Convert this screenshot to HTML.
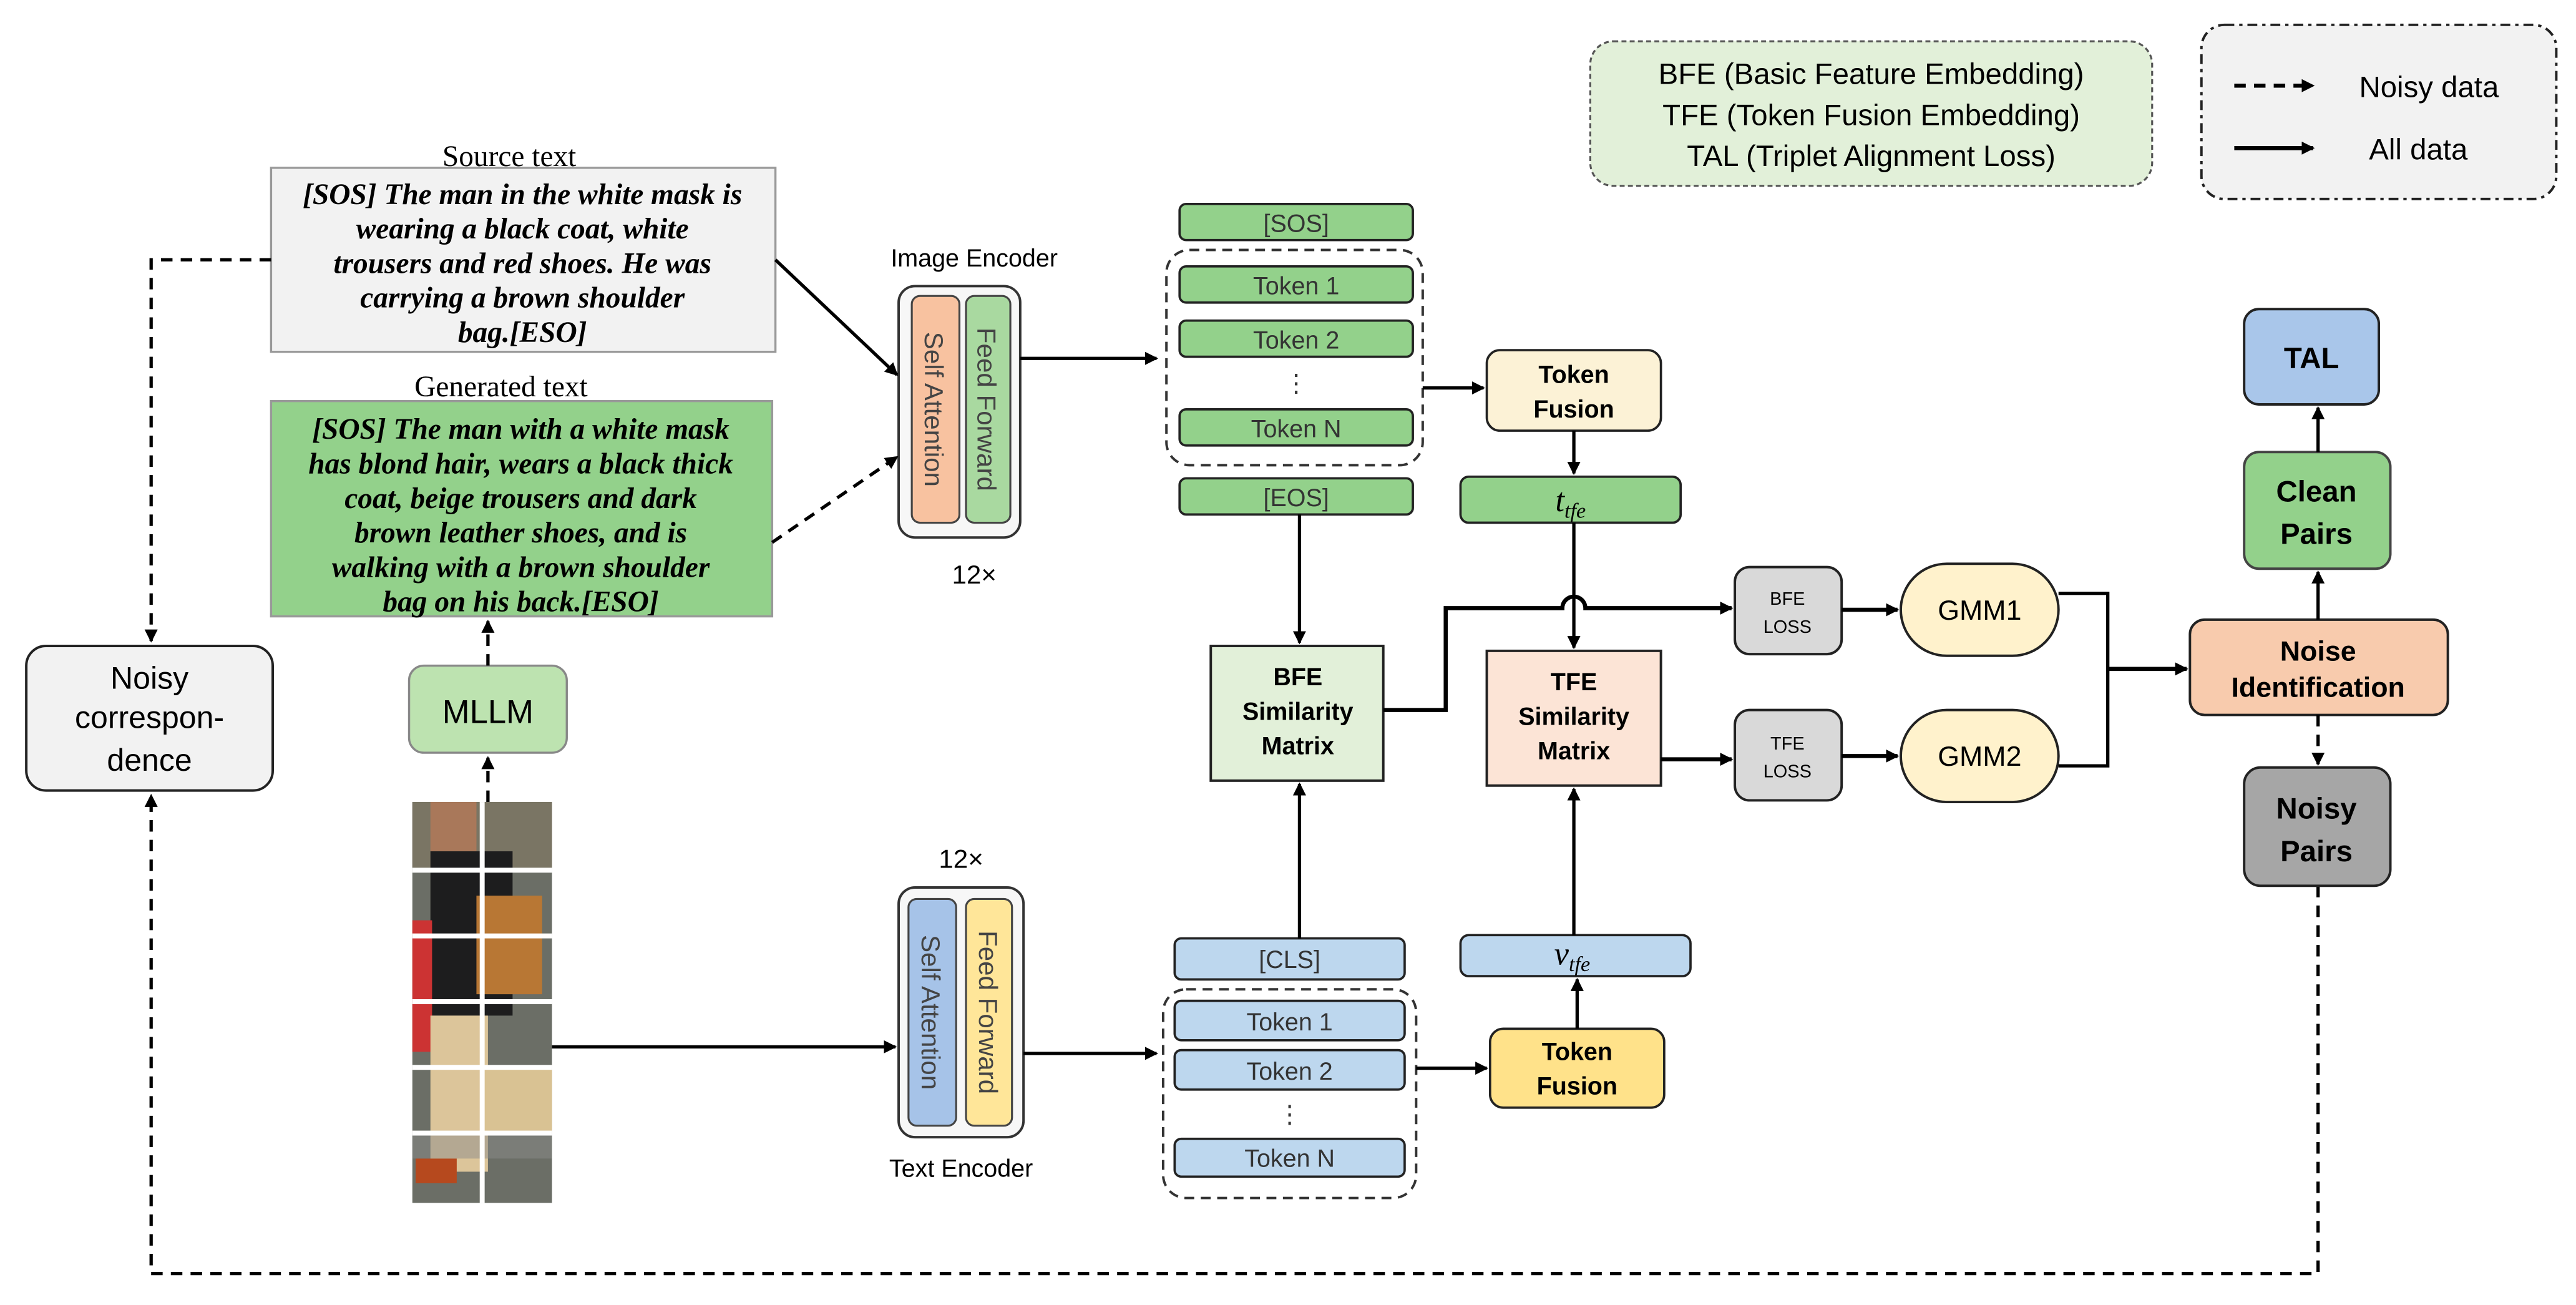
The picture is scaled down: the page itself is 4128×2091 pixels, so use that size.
<!DOCTYPE html>
<html><head><meta charset="utf-8"><style>
html,body{margin:0;padding:0;background:#fff;}
svg{display:block;}
text{font-family:"Liberation Sans",sans-serif;}
.s{font-family:"Liberation Serif",serif;}
.it{font-family:"Liberation Serif",serif;font-style:italic;font-weight:bold;font-size:18px;}
.tk{font-size:15px;fill:#333;}
.b{font-weight:bold;}
</style></head><body>
<svg width="4128" height="2091" viewBox="0 0 1568 794" xmlns="http://www.w3.org/2000/svg">
<defs>
<marker id="a" markerWidth="8" markerHeight="8" refX="7" refY="4" orient="auto" markerUnits="userSpaceOnUse"><path d="M0,0 L8,4 L0,8 z" fill="#000"/></marker>
</defs>
<rect width="1568" height="794" fill="#fff"/>

<!-- legends -->
<rect x="968" y="25" width="342" height="88" rx="14" fill="#e2f0d9" stroke="#555" stroke-width="1.2" stroke-dasharray="3,2"/>
<text x="1139" y="51" font-size="18" text-anchor="middle">BFE (Basic Feature Embedding)</text>
<text x="1139" y="76" font-size="18" text-anchor="middle">TFE (Token Fusion Embedding)</text>
<text x="1139" y="101" font-size="18" text-anchor="middle">TAL (Triplet Alignment Loss)</text>
<rect x="1340" y="15" width="216" height="106" rx="14" fill="#f2f2f2" stroke="#222" stroke-width="1.5" stroke-dasharray="6,3,2,3"/>
<line x1="1360" y1="52" x2="1408" y2="52" stroke="#000" stroke-width="2.5" stroke-dasharray="7,5" marker-end="url(#a)"/>
<text x="1436" y="59" font-size="18">Noisy data</text>
<line x1="1360" y1="90" x2="1408" y2="90" stroke="#000" stroke-width="2.5" marker-end="url(#a)"/>
<text x="1442" y="97" font-size="18">All data</text>

<!-- source text -->
<text x="310" y="101" class="s" font-size="18" text-anchor="middle">Source text</text>
<rect x="165" y="102" width="307" height="112" fill="#f2f2f2" stroke="#999" stroke-width="1.3"/>
<text class="it" text-anchor="middle"><tspan x="318" y="124">[SOS] The man in the white mask is</tspan><tspan x="318" y="145">wearing a black coat, white</tspan><tspan x="318" y="166">trousers and red shoes. He was</tspan><tspan x="318" y="187">carrying a brown shoulder</tspan><tspan x="318" y="208">bag.[ESO]</tspan></text>

<text x="305" y="241" class="s" font-size="18" text-anchor="middle">Generated text</text>
<rect x="165" y="244" width="305" height="131" fill="#93d18b" stroke="#999" stroke-width="1.3"/>
<text class="it" text-anchor="middle"><tspan x="317" y="267">[SOS] The man with a white mask</tspan><tspan x="317" y="288">has blond hair, wears a black thick</tspan><tspan x="317" y="309">coat, beige trousers and dark</tspan><tspan x="317" y="330">brown leather shoes, and is</tspan><tspan x="317" y="351">walking with a brown shoulder</tspan><tspan x="317" y="372">bag on his back.[ESO]</tspan></text>

<!-- noisy correspondence -->
<rect x="16" y="393" width="150" height="88" rx="12" fill="#f2f2f2" stroke="#222" stroke-width="1.5"/>
<text x="91" y="419" font-size="19" text-anchor="middle">Noisy</text>
<text x="91" y="443" font-size="19" text-anchor="middle">correspon-</text>
<text x="91" y="469" font-size="19" text-anchor="middle">dence</text>
<path d="M165,158 H92 V390" fill="none" stroke="#000" stroke-width="2" stroke-dasharray="7,5" marker-end="url(#a)"/>
<path d="M1411,539 V775 H92 V484" fill="none" stroke="#000" stroke-width="2" stroke-dasharray="7,5" marker-end="url(#a)"/>

<!-- MLLM -->
<rect x="249" y="405" width="96" height="53" rx="9" fill="#bde3b0" stroke="#888" stroke-width="1.3"/>
<text x="297" y="440" font-size="20" text-anchor="middle">MLLM</text>
<line x1="297" y1="405" x2="297" y2="378" stroke="#000" stroke-width="2" stroke-dasharray="7,5" marker-end="url(#a)"/>
<line x1="297" y1="488" x2="297" y2="461" stroke="#000" stroke-width="2" stroke-dasharray="7,5" marker-end="url(#a)"/>

<!-- person image -->
<g>
<rect x="251" y="488" width="85" height="244" fill="#6b6e66"/>
<rect x="251" y="488" width="85" height="40" fill="#7a7564"/>
<rect x="262" y="488" width="28" height="30" fill="#a9785a"/>
<rect x="262" y="518" width="50" height="100" fill="#1d1d1e"/>
<rect x="290" y="545" width="40" height="60" fill="#b87734"/>
<rect x="251" y="560" width="12" height="80" fill="#c33"/>
<rect x="262" y="618" width="35" height="95" fill="#dcc59a"/>
<rect x="295" y="650" width="41" height="40" fill="#d9c293"/>
<rect x="253" y="705" width="25" height="15" fill="#b6491e"/>
<rect x="251" y="690" width="85" height="15" fill="#8c8c8a" opacity="0.5"/>
<g fill="#fff">
<rect x="292" y="488" width="3" height="244"/>
<rect x="251" y="528" width="85" height="3"/>
<rect x="251" y="568" width="85" height="3"/>
<rect x="251" y="608" width="85" height="3"/>
<rect x="251" y="648" width="85" height="3"/>
<rect x="251" y="688" width="85" height="3"/>
</g>
</g>
<line x1="336" y1="637" x2="545" y2="637" stroke="#000" stroke-width="2" marker-end="url(#a)"/>

<!-- image encoder -->
<text x="593" y="162" font-size="15" text-anchor="middle">Image Encoder</text>
<rect x="547" y="174" width="74" height="153" rx="10" fill="#f7f7f7" stroke="#333" stroke-width="1.5"/>
<rect x="555" y="180" width="29" height="138" rx="5" fill="#f8c2a0" stroke="#444" stroke-width="1.2"/>
<rect x="588" y="180" width="27" height="138" rx="5" fill="#a9d9a0" stroke="#444" stroke-width="1.2"/>
<text transform="translate(563,249) rotate(90)" font-size="16" text-anchor="middle" fill="#444">Self Attention</text>
<text transform="translate(595,249) rotate(90)" font-size="16" text-anchor="middle" fill="#444">Feed Forward</text>
<text x="593" y="355" font-size="16" text-anchor="middle">12×</text>
<line x1="472" y1="158" x2="546" y2="228" stroke="#000" stroke-width="2" marker-end="url(#a)"/>
<line x1="470" y1="330" x2="546" y2="278" stroke="#000" stroke-width="2" stroke-dasharray="7,5" marker-end="url(#a)"/>
<line x1="621" y1="218" x2="704" y2="218" stroke="#000" stroke-width="2" marker-end="url(#a)"/>

<!-- text encoder -->
<text x="585" y="528" font-size="16" text-anchor="middle">12×</text>
<rect x="547" y="540" width="76" height="152" rx="10" fill="#f7f7f7" stroke="#333" stroke-width="1.5"/>
<rect x="553" y="547" width="29" height="138" rx="5" fill="#a6c3e8" stroke="#444" stroke-width="1.2"/>
<rect x="588" y="547" width="28" height="138" rx="5" fill="#ffe699" stroke="#444" stroke-width="1.2"/>
<text transform="translate(561,616) rotate(90)" font-size="16" text-anchor="middle" fill="#444">Self Attention</text>
<text transform="translate(596,616) rotate(90)" font-size="16" text-anchor="middle" fill="#444">Feed Forward</text>
<text x="585" y="716" font-size="15" text-anchor="middle">Text Encoder</text>
<line x1="623" y1="641" x2="704" y2="641" stroke="#000" stroke-width="2" marker-end="url(#a)"/>

<!-- green tokens -->
<g stroke="#222" stroke-width="1.4" fill="#93d18b">
<rect x="718" y="124" width="142" height="22" rx="4"/>
<rect x="718" y="162" width="142" height="22" rx="4"/>
<rect x="718" y="195" width="142" height="22" rx="4"/>
<rect x="718" y="249" width="142" height="22" rx="4"/>
<rect x="718" y="291" width="142" height="22" rx="4"/>
</g>
<rect x="710" y="152" width="156" height="131" rx="14" fill="none" stroke="#333" stroke-width="1.5" stroke-dasharray="6,4"/>
<text x="789" y="141" class="tk" text-anchor="middle">[SOS]</text>
<text x="789" y="179" class="tk" text-anchor="middle">Token 1</text>
<text x="789" y="212" class="tk" text-anchor="middle">Token 2</text>
<text x="789" y="238" class="tk" text-anchor="middle">⋮</text>
<text x="789" y="266" class="tk" text-anchor="middle">Token N</text>
<text x="789" y="308" class="tk" text-anchor="middle">[EOS]</text>
<line x1="866" y1="236" x2="903" y2="236" stroke="#000" stroke-width="2" marker-end="url(#a)"/>
<rect x="905" y="213" width="106" height="49" rx="8" fill="#fcf2d6" stroke="#222" stroke-width="1.4"/>
<text x="958" y="233" font-size="15" class="b" text-anchor="middle">Token</text>
<text x="958" y="254" font-size="15" class="b" text-anchor="middle">Fusion</text>
<line x1="958" y1="262" x2="958" y2="288" stroke="#000" stroke-width="2" marker-end="url(#a)"/>
<rect x="889" y="290" width="134" height="28" rx="5" fill="#93d18b" stroke="#222" stroke-width="1.4"/>
<text x="956" y="311" class="s" font-size="20" font-style="italic" text-anchor="middle">t<tspan font-size="13" dy="4">tfe</tspan></text>

<!-- blue tokens -->
<g stroke="#222" stroke-width="1.4" fill="#bdd7ee">
<rect x="715" y="571" width="140" height="25" rx="4"/>
<rect x="715" y="609" width="140" height="24" rx="4"/>
<rect x="715" y="639" width="140" height="24" rx="4"/>
<rect x="715" y="693" width="140" height="23" rx="4"/>
</g>
<rect x="708" y="602" width="154" height="127" rx="14" fill="none" stroke="#333" stroke-width="1.5" stroke-dasharray="6,4"/>
<text x="785" y="589" class="tk" text-anchor="middle">[CLS]</text>
<text x="785" y="627" class="tk" text-anchor="middle">Token 1</text>
<text x="785" y="657" class="tk" text-anchor="middle">Token 2</text>
<text x="785" y="683" class="tk" text-anchor="middle">⋮</text>
<text x="785" y="710" class="tk" text-anchor="middle">Token N</text>
<line x1="862" y1="650" x2="905" y2="650" stroke="#000" stroke-width="2" marker-end="url(#a)"/>
<rect x="907" y="626" width="106" height="48" rx="8" fill="#ffe28a" stroke="#222" stroke-width="1.4"/>
<text x="960" y="645" font-size="15" class="b" text-anchor="middle">Token</text>
<text x="960" y="666" font-size="15" class="b" text-anchor="middle">Fusion</text>
<line x1="960" y1="626" x2="960" y2="596" stroke="#000" stroke-width="2" marker-end="url(#a)"/>
<rect x="889" y="569" width="140" height="25" rx="5" fill="#bdd7ee" stroke="#222" stroke-width="1.4"/>
<text x="957" y="587" class="s" font-size="20" font-style="italic" text-anchor="middle">v<tspan font-size="13" dy="4">tfe</tspan></text>

<!-- similarity matrices -->
<line x1="791" y1="313" x2="791" y2="391" stroke="#000" stroke-width="2" marker-end="url(#a)"/>
<rect x="737" y="393" width="105" height="82" fill="#e2f0d9" stroke="#222" stroke-width="1.5"/>
<text x="790" y="417" font-size="15" class="b" text-anchor="middle">BFE</text>
<text x="790" y="438" font-size="15" class="b" text-anchor="middle">Similarity</text>
<text x="790" y="459" font-size="15" class="b" text-anchor="middle">Matrix</text>
<line x1="791" y1="571" x2="791" y2="477" stroke="#000" stroke-width="2" marker-end="url(#a)"/>

<line x1="958" y1="318" x2="958" y2="394" stroke="#000" stroke-width="2" marker-end="url(#a)"/>
<rect x="905" y="396" width="106" height="82" fill="#fce4d6" stroke="#222" stroke-width="1.5"/>
<text x="958" y="420" font-size="15" class="b" text-anchor="middle">TFE</text>
<text x="958" y="441" font-size="15" class="b" text-anchor="middle">Similarity</text>
<text x="958" y="462" font-size="15" class="b" text-anchor="middle">Matrix</text>
<line x1="958" y1="569" x2="958" y2="480" stroke="#000" stroke-width="2" marker-end="url(#a)"/>

<path d="M842,432 H880 V370 H951 A7,7 0 0 1 965,370 H1054" fill="none" stroke="#000" stroke-width="2.5" marker-end="url(#a)"/>
<line x1="1011" y1="462" x2="1054" y2="462" stroke="#000" stroke-width="2.5" marker-end="url(#a)"/>

<!-- loss boxes -->
<rect x="1056" y="345" width="65" height="53" rx="9" fill="#d9d9d9" stroke="#222" stroke-width="1.5"/>
<text x="1088" y="368" font-size="11" text-anchor="middle">BFE</text>
<text x="1088" y="385" font-size="11" text-anchor="middle">LOSS</text>
<rect x="1056" y="432" width="65" height="55" rx="9" fill="#d9d9d9" stroke="#222" stroke-width="1.5"/>
<text x="1088" y="456" font-size="11" text-anchor="middle">TFE</text>
<text x="1088" y="473" font-size="11" text-anchor="middle">LOSS</text>
<line x1="1121" y1="371" x2="1155" y2="371" stroke="#000" stroke-width="2.5" marker-end="url(#a)"/>
<line x1="1121" y1="460" x2="1155" y2="460" stroke="#000" stroke-width="2.5" marker-end="url(#a)"/>
<rect x="1157" y="343" width="96" height="56" rx="28" fill="#fff2cc" stroke="#222" stroke-width="1.5"/>
<text x="1205" y="377" font-size="17" text-anchor="middle">GMM1</text>
<rect x="1157" y="432" width="96" height="56" rx="28" fill="#fff2cc" stroke="#222" stroke-width="1.5"/>
<text x="1205" y="466" font-size="17" text-anchor="middle">GMM2</text>
<path d="M1253,361 H1283 V466 H1253" fill="none" stroke="#000" stroke-width="2"/>
<line x1="1283" y1="407" x2="1331" y2="407" stroke="#000" stroke-width="2.5" marker-end="url(#a)"/>

<!-- right column -->
<rect x="1333" y="377" width="157" height="58" rx="9" fill="#f8cbad" stroke="#222" stroke-width="1.5"/>
<text x="1411" y="402" font-size="17" class="b" text-anchor="middle">Noise</text>
<text x="1411" y="424" font-size="17" class="b" text-anchor="middle">Identification</text>
<line x1="1411" y1="377" x2="1411" y2="348" stroke="#000" stroke-width="2" marker-end="url(#a)"/>
<rect x="1366" y="275" width="89" height="71" rx="9" fill="#93d18b" stroke="#444" stroke-width="1.5"/>
<text x="1410" y="305" font-size="18" class="b" text-anchor="middle">Clean</text>
<text x="1410" y="331" font-size="18" class="b" text-anchor="middle">Pairs</text>
<line x1="1411" y1="275" x2="1411" y2="248" stroke="#000" stroke-width="2" marker-end="url(#a)"/>
<rect x="1366" y="188" width="82" height="58" rx="9" fill="#a9c6ea" stroke="#222" stroke-width="1.5"/>
<text x="1407" y="224" font-size="18" class="b" text-anchor="middle">TAL</text>
<line x1="1411" y1="435" x2="1411" y2="465" stroke="#000" stroke-width="2" stroke-dasharray="7,5" marker-end="url(#a)"/>
<rect x="1366" y="467" width="89" height="72" rx="10" fill="#a6a6a6" stroke="#222" stroke-width="1.5"/>
<text x="1410" y="498" font-size="18" class="b" text-anchor="middle">Noisy</text>
<text x="1410" y="524" font-size="18" class="b" text-anchor="middle">Pairs</text>
</svg>
</body></html>
